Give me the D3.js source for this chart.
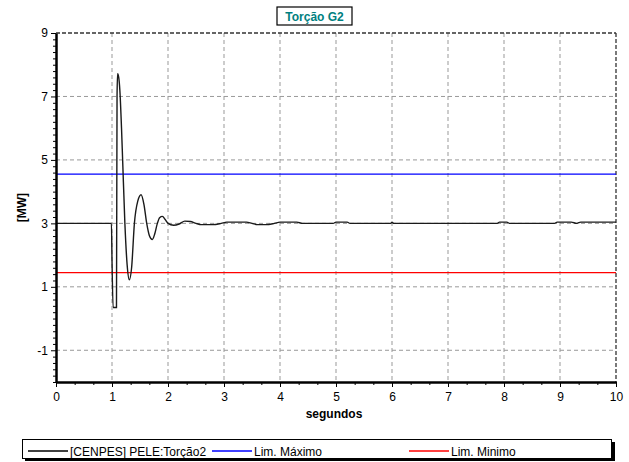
<!DOCTYPE html>
<html>
<head>
<meta charset="utf-8">
<script src="https://cdn.jsdelivr.net/npm/d3@7"></script>
<style>
  body { margin: 0; background: #fff; }
  svg text { font-family: "Liberation Sans", Arial, sans-serif; }
</style>
</head>
<body>
<svg id="chart"></svg>
<script>
// Signal data (time in s, torque in MW)
const times = [0, 0.97, 0.99, 1.0, 1.02, 1.08, 1.09, 1.10, 1.12, 1.14, 1.17, 1.19, 1.23, 1.27, 1.31, 1.35,
  1.40, 1.46, 1.52, 1.57, 1.62, 1.67, 1.72, 1.76, 1.81, 1.85, 1.90, 1.95, 2.0, 2.1, 2.2, 2.3, 2.4, 2.5,
  2.6, 2.8, 2.95, 3.05, 3.4, 3.5, 3.6, 3.75, 3.9, 4.0, 4.3, 4.4, 4.95, 5.0, 5.2, 5.25, 5.98, 6.0, 6.03,
  7.88, 7.92, 8.05, 8.1, 8.9, 8.95, 9.2, 9.3, 9.37, 10];
const torque = [3.0, 3.0, 3.0, 1.85, 0.35, 0.35, 7.0, 7.72, 7.6, 7.2, 6.0, 5.0, 3.0, 1.7, 1.22, 1.6,
  3.0, 3.7, 3.9, 3.6, 3.0, 2.6, 2.49, 2.65, 3.0, 3.18, 3.22, 3.12, 3.0, 2.94, 2.98, 3.07, 3.06, 3.0,
  2.96, 2.96, 3.0, 3.04, 3.04, 3.0, 2.96, 2.96, 3.0, 3.04, 3.04, 3.0, 3.0, 3.04, 3.04, 3.0, 3.0, 3.04, 3.0,
  3.0, 3.04, 3.04, 3.0, 3.0, 3.04, 3.04, 3.0, 3.04, 3.04];

const limMax = 4.55;
const limMin = 1.45;

const xTicks = [0, 1, 2, 3, 4, 5, 6, 7, 8, 9, 10];
const yTicks = [-1, 1, 3, 5, 7, 9];

const legendLabels = ["[CENPES] PELE:Torção2", "Lim. Máximo", "Lim. Minimo"];
const legendColors = ["#000000", "#0000ff", "#ff0000"];

const svgWidth = 629;
const svgHeight = 462;
const margin = { top: 33, right: 13, bottom: 80, left: 56 };
const width = svgWidth - margin.left - margin.right;
const height = svgHeight - margin.top - margin.bottom;

const svg = d3.select("#chart")
    .attr("width", svgWidth)
    .attr("height", svgHeight);

const chart = svg.append("g")
    .attr("transform", `translate(${margin.left},${margin.top})`);

const xScale = d3.scaleLinear().domain([0, 10]).range([0, width]);
const yScale = d3.scaleLinear().domain([-2, 9]).range([height, 0]);

// grid
chart.selectAll(".vgrid")
    .data(xTicks.filter(d => d > 0 && d < 10))
    .enter().append("line")
    .attr("x1", d => xScale(d)).attr("x2", d => xScale(d))
    .attr("y1", 0).attr("y2", height)
    .attr("stroke", "#999")
    .attr("stroke-dasharray", "4,3");

chart.selectAll(".hgrid")
    .data(yTicks.filter(d => d < 9))
    .enter().append("line")
    .attr("x1", 0).attr("x2", width)
    .attr("y1", d => yScale(d)).attr("y2", d => yScale(d))
    .attr("stroke", "#999")
    .attr("stroke-dasharray", "4,3");

// top and right border (dashed)
chart.append("line")
    .attr("x1", 0).attr("x2", width).attr("y1", 0).attr("y2", 0)
    .attr("stroke", "#333").attr("stroke-width", 1.3)
    .attr("stroke-dasharray", "4,2");
chart.append("line")
    .attr("x1", width).attr("x2", width).attr("y1", 0).attr("y2", height)
    .attr("stroke", "#333").attr("stroke-width", 1.3)
    .attr("stroke-dasharray", "4,2");

// limit lines
chart.append("line")
    .attr("x1", 0).attr("x2", width)
    .attr("y1", yScale(limMax)).attr("y2", yScale(limMax))
    .attr("stroke", legendColors[1]).attr("stroke-width", 1.2);
chart.append("line")
    .attr("x1", 0).attr("x2", width)
    .attr("y1", yScale(limMin)).attr("y2", yScale(limMin))
    .attr("stroke", legendColors[2]).attr("stroke-width", 1.2);

// signal
const signal = times.map((t, i) => ({ t: t, v: torque[i] }));
const line = d3.line().x(d => xScale(d.t)).y(d => yScale(d.v)).curve(d3.curveMonotoneX);
chart.append("path")
    .datum(signal)
    .attr("fill", "none")
    .attr("stroke", "#1a1a1a")
    .attr("stroke-width", 1.4)
    .attr("d", line);

// minor ticks
const xMinor = d3.range(0, 30).map(i => i / 3).filter(d => Math.abs(d - Math.round(d)) > 0.01);
const yMinor = d3.range(-10, 46).map(i => i / 5).filter(d => !yTicks.some(t => Math.abs(t - d) < 0.01));

chart.append("g")
    .attr("transform", `translate(0,${height})`)
    .call(d3.axisBottom(xScale).tickValues(xMinor).tickSize(3).tickFormat(""))
    .call(g => g.select(".domain").remove());
chart.append("g")
    .call(d3.axisLeft(yScale).tickValues(yMinor).tickSize(3).tickFormat(""))
    .call(g => g.select(".domain").remove());

// axes
const xAxis = chart.append("g")
    .attr("transform", `translate(0,${height})`)
    .call(d3.axisBottom(xScale).tickValues(xTicks).tickSize(5).tickSizeOuter(0).tickFormat(d => String(d)));
xAxis.select(".domain").attr("stroke-width", 2.5);
xAxis.selectAll("text").attr("font-size", 12).attr("fill", "#000")
    .attr("font-family", "Liberation Sans, Arial, sans-serif").attr("dy", "0.95em");

const yAxis = chart.append("g")
    .call(d3.axisLeft(yScale).tickValues(yTicks).tickSize(5).tickSizeOuter(0).tickFormat(d => String(d)));
yAxis.select(".domain").attr("stroke-width", 2.5);
yAxis.selectAll("text").attr("font-size", 12).attr("fill", "#000")
    .attr("font-family", "Liberation Sans, Arial, sans-serif").attr("x", -8);

// axis labels
chart.append("text")
    .attr("x", width / 2 - 2)
    .attr("y", height + 36)
    .attr("text-anchor", "middle")
    .attr("font-size", 12)
    .attr("font-weight", "bold")
    .text("segundos");

chart.append("text")
    .attr("transform", "rotate(-90)")
    .attr("x", -(yScale(3) + yScale(5)) / 2 - 16)
    .attr("y", -30)
    .attr("text-anchor", "middle")
    .attr("font-size", 12)
    .attr("font-weight", "bold")
    .text("[MW]");

// title
const title = svg.append("g");
title.append("rect")
    .attr("x", 277).attr("y", 7).attr("width", 75).attr("height", 18)
    .attr("fill", "#fff").attr("stroke", "#000").attr("stroke-width", 1.2);
title.append("text")
    .attr("x", 314.5).attr("y", 20.5)
    .attr("text-anchor", "middle")
    .attr("font-size", 12)
    .attr("font-weight", "bold")
    .attr("fill", "#008080")
    .text("Torção G2");

// legend
const legend = svg.append("g");
legend.append("rect")
    .attr("x", 25).attr("y", 442).attr("width", 590).attr("height", 19)
    .attr("fill", "#000");
legend.append("rect")
    .attr("x", 22.5).attr("y", 439.5).attr("width", 589).attr("height", 19)
    .attr("fill", "#fff").attr("stroke", "#000").attr("stroke-width", 1);

const legendX = [28, 212, 409];
legendLabels.forEach((lab, i) => {
    legend.append("line")
        .attr("x1", legendX[i]).attr("x2", legendX[i] + 40)
        .attr("y1", 451).attr("y2", 451)
        .attr("stroke", legendColors[i]).attr("stroke-width", 1.5);
    legend.append("text")
        .attr("x", legendX[i] + 42).attr("y", 455.5)
        .attr("font-size", 12)
        .text(lab);
});
</script>
</body>
</html>
